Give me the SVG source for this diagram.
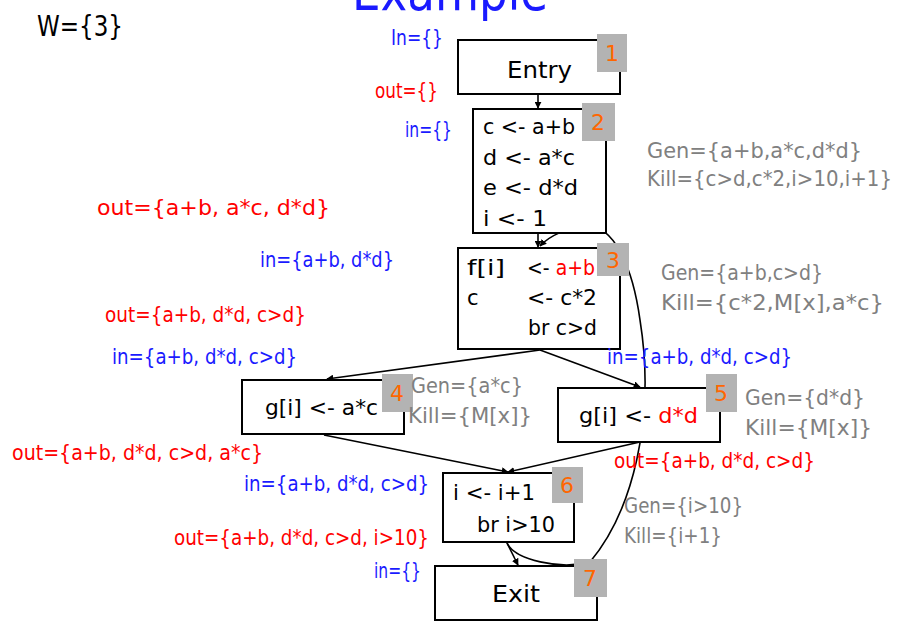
<svg xmlns="http://www.w3.org/2000/svg" width="909" height="621" viewBox="0 0 909 621">
<defs>
<marker id="ah" viewBox="0 0 10 10" refX="9" refY="5" markerWidth="7" markerHeight="7" markerUnits="userSpaceOnUse" orient="auto"><path d="M0,0 L10,5 L0,10 z" fill="#000"/></marker>
<style>
text{font-family:"DejaVu Sans","Liberation Sans",sans-serif;font-size:21px}
.box{fill:#fff;stroke:#000;stroke-width:2}
.badge{fill:#b3b3b3}
.num{fill:#ff6600;font-size:22px;text-anchor:middle}
.blk{fill:#000}
.blue{fill:#1a1aff}
.red{fill:#ff0000}
.gray{fill:#808080}
.edge{fill:none;stroke:#000;stroke-width:1.6;marker-end:url(#ah)}
</style>
</defs>
<rect width="909" height="621" fill="#fff"/>
<text x="352" y="10" style="font-size:54px" textLength="196" lengthAdjust="spacingAndGlyphs" class="blue">Example</text>
<text x="37" y="36" style="font-size:28px" textLength="86" lengthAdjust="spacingAndGlyphs" class="blk">W={3}</text>

<g id="connectors">
<path class="edge" d="M538 94 L538 108"/>
<path class="edge" d="M538 233 L538 247"/>
<path class="edge" d="M540 350 L327 379"/>
<path class="edge" d="M540 350 L640 387"/>
<path class="edge" d="M324 435 L508 472"/>
<path class="edge" d="M640 442 L508 472"/>
<path class="edge" d="M507 543 L518 565"/>
<path class="edge" d="M507 543 C515 560 560 570 590 562 C632 512 656 420 640 320 C632 262 612 226 588 226 C568 227 549 236 540 246"/>
</g>

<g id="n1">
<rect class="box" x="458" y="40" width="162" height="54"/>
<text x="507" y="78" style="font-size:23px" textLength="65" lengthAdjust="spacingAndGlyphs" class="blk">Entry</text>
<rect class="badge" x="597" y="34" width="30" height="38"/>
<text x="612" y="61" class="num">1</text>
</g>

<g id="n2">
<rect class="box" x="473" y="109" width="133" height="124"/>
<text x="483" y="134" textLength="92" lengthAdjust="spacingAndGlyphs" class="blk">c &lt;- a+b</text>
<text x="483" y="165" textLength="92" lengthAdjust="spacingAndGlyphs" class="blk">d &lt;- a*c</text>
<text x="483" y="195" textLength="95" lengthAdjust="spacingAndGlyphs" class="blk">e &lt;- d*d</text>
<text x="483" y="226" textLength="64" lengthAdjust="spacingAndGlyphs" class="blk">i  &lt;- 1</text>
<rect class="badge" x="582" y="103" width="33" height="38"/>
<text x="598" y="130" class="num">2</text>
</g>

<g id="n3">
<rect class="box" x="458" y="248" width="162" height="101"/>
<text x="467" y="275" textLength="38" lengthAdjust="spacingAndGlyphs" class="blk">f[i]</text>
<text x="527" y="275" textLength="68" lengthAdjust="spacingAndGlyphs" class="blk">&lt;- <tspan class="red">a+b</tspan></text>
<text x="467" y="305" class="blk">c</text>
<text x="527" y="305" textLength="70" lengthAdjust="spacingAndGlyphs" class="blk">&lt;- c*2</text>
<text x="528" y="335" textLength="69" lengthAdjust="spacingAndGlyphs" class="blk">br c&gt;d</text>
<rect class="badge" x="597" y="243" width="32" height="33"/>
<text x="613" y="268" class="num">3</text>
</g>

<g id="n4">
<rect class="box" x="242" y="380" width="162" height="54"/>
<text x="265" y="415" textLength="113" lengthAdjust="spacingAndGlyphs" class="blk">g[i] &lt;- a*c</text>
<rect class="badge" x="382" y="374" width="31" height="38"/>
<text x="397" y="401" class="num">4</text>
</g>

<g id="n5">
<rect class="box" x="558" y="388" width="162" height="54"/>
<text x="579" y="423" textLength="119" lengthAdjust="spacingAndGlyphs" class="blk">g[i] &lt;- <tspan class="red">d*d</tspan></text>
<rect class="badge" x="706" y="374" width="31" height="38"/>
<text x="721" y="401" class="num">5</text>
</g>

<g id="n6">
<rect class="box" x="443" y="473" width="131" height="69"/>
<text x="453" y="500" textLength="82" lengthAdjust="spacingAndGlyphs" class="blk">i  &lt;- i+1</text>
<text x="477" y="532" textLength="78" lengthAdjust="spacingAndGlyphs" class="blk">br i&gt;10</text>
<rect class="badge" x="552" y="467" width="31" height="36"/>
<text x="567" y="493" class="num">6</text>
</g>

<g id="n7">
<rect class="box" x="435" y="566" width="162" height="54"/>
<text x="492" y="602" style="font-size:23px" textLength="48" lengthAdjust="spacingAndGlyphs" class="blk">Exit</text>
<rect class="badge" x="574" y="559" width="33" height="38"/>
<text x="590" y="586" class="num">7</text>
</g>

<g id="labels">
<text x="391" y="45" textLength="52" lengthAdjust="spacingAndGlyphs" class="blue">In={}</text>
<text x="375" y="98" textLength="63" lengthAdjust="spacingAndGlyphs" class="red">out={}</text>
<text x="405" y="137" textLength="47" lengthAdjust="spacingAndGlyphs" class="blue">in={}</text>
<text x="647" y="158" textLength="215" lengthAdjust="spacingAndGlyphs" class="gray">Gen={a+b,a*c,d*d}</text>
<text x="647" y="186" textLength="245" lengthAdjust="spacingAndGlyphs" class="gray">Kill={c&gt;d,c*2,i&gt;10,i+1}</text>
<text x="97" y="215" textLength="233" lengthAdjust="spacingAndGlyphs" class="red">out={a+b, a*c, d*d}</text>
<text x="260" y="267" textLength="134" lengthAdjust="spacingAndGlyphs" class="blue">in={a+b, d*d}</text>
<text x="661" y="280" textLength="162" lengthAdjust="spacingAndGlyphs" class="gray">Gen={a+b,c&gt;d}</text>
<text x="661" y="310" textLength="223" lengthAdjust="spacingAndGlyphs" class="gray">Kill={c*2,M[x],a*c}</text>
<text x="105" y="322" textLength="201" lengthAdjust="spacingAndGlyphs" class="red">out={a+b, d*d, c&gt;d}</text>
<text x="112" y="364" textLength="185" lengthAdjust="spacingAndGlyphs" class="blue">in={a+b, d*d, c&gt;d}</text>
<text x="607" y="364" textLength="185" lengthAdjust="spacingAndGlyphs" class="blue">in={a+b, d*d, c&gt;d}</text>
<text x="411" y="393" textLength="112" lengthAdjust="spacingAndGlyphs" class="gray">Gen={a*c}</text>
<text x="408" y="423" textLength="124" lengthAdjust="spacingAndGlyphs" class="gray">Kill={M[x]}</text>
<text x="745" y="405" textLength="120" lengthAdjust="spacingAndGlyphs" class="gray">Gen={d*d}</text>
<text x="745" y="435" textLength="127" lengthAdjust="spacingAndGlyphs" class="gray">Kill={M[x]}</text>
<text x="12" y="460" textLength="251" lengthAdjust="spacingAndGlyphs" class="red">out={a+b, d*d, c&gt;d, a*c}</text>
<text x="614" y="468" textLength="201" lengthAdjust="spacingAndGlyphs" class="red">out={a+b, d*d, c&gt;d}</text>
<text x="244" y="491" textLength="185" lengthAdjust="spacingAndGlyphs" class="blue">in={a+b, d*d, c&gt;d}</text>
<text x="624" y="513" textLength="119" lengthAdjust="spacingAndGlyphs" class="gray">Gen={i&gt;10}</text>
<text x="624" y="543" textLength="98" lengthAdjust="spacingAndGlyphs" class="gray">Kill={i+1}</text>
<text x="174" y="545" textLength="255" lengthAdjust="spacingAndGlyphs" class="red">out={a+b, d*d, c&gt;d, i&gt;10}</text>
<text x="374" y="578" textLength="47" lengthAdjust="spacingAndGlyphs" class="blue">in={}</text>
</g>
</svg>
